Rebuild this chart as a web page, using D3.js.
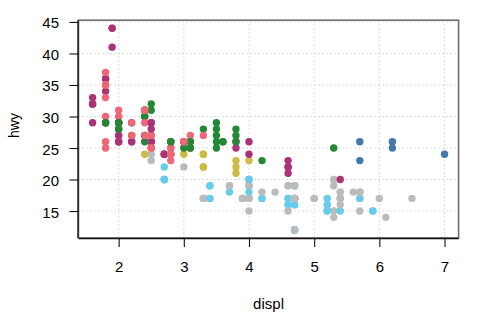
<!DOCTYPE html>
<html><head><meta charset="utf-8">
<script src="https://cdn.jsdelivr.net/npm/d3@7"></script>
<style>html,body{margin:0;padding:0;background:#fff;}svg{display:block;}</style>
</head><body>
<svg id="chart" width="480" height="336"></svg>
<script>
const displ = [1.8,1.8,2.0,2.0,2.8,2.8,3.1,1.8,1.8,2.0,2.0,2.8,2.8,3.1,3.1,2.8,3.1,4.2,5.3,5.3,5.3,5.7,6.0,5.7,5.7,6.2,6.2,7.0,5.3,5.3,5.7,6.5,2.4,2.4,3.1,3.5,3.6,2.4,3.0,3.3,3.3,3.3,3.3,3.3,3.8,3.8,3.8,4.0,3.7,3.7,3.9,3.9,4.7,4.7,4.7,5.2,5.2,3.9,4.7,4.7,4.7,5.2,5.7,5.9,4.7,4.7,4.7,4.7,4.7,4.7,5.2,5.2,5.7,5.9,4.6,5.4,5.4,4.0,4.0,4.0,4.0,4.6,5.0,4.2,4.2,4.6,4.6,4.6,5.4,5.4,3.8,3.8,4.0,4.0,4.6,4.6,4.6,4.6,5.4,1.6,1.6,1.6,1.6,1.6,1.8,1.8,1.8,2.0,2.4,2.4,2.4,2.4,2.5,2.5,3.3,2.0,2.0,2.0,2.0,2.7,2.7,2.7,3.0,3.7,4.0,4.7,4.7,4.7,5.7,6.1,4.0,4.2,4.4,4.6,5.4,5.4,5.4,4.0,4.0,4.6,5.0,2.4,2.4,2.5,2.5,3.5,3.5,3.0,3.0,3.5,3.3,3.3,4.0,5.6,3.1,3.8,3.8,3.8,5.3,2.5,2.5,2.5,2.5,2.5,2.5,2.2,2.2,2.5,2.5,2.5,2.5,2.5,2.5,2.7,2.7,3.4,3.4,4.0,4.7,2.2,2.2,2.4,2.4,3.0,3.0,3.5,2.2,2.2,2.4,2.4,3.0,3.0,3.3,1.8,1.8,1.8,1.8,1.8,4.7,5.7,2.7,2.7,2.7,3.4,3.4,4.0,4.0,2.0,2.0,2.0,2.0,2.8,1.9,2.0,2.0,2.0,2.0,2.5,2.5,2.8,2.8,1.9,1.9,2.0,2.0,2.5,2.5,1.8,1.8,2.0,2.0,2.8,2.8,3.6];
const hwy = [29,29,31,30,26,26,27,26,25,28,27,25,25,25,25,24,25,23,20,15,20,17,17,26,23,26,25,24,19,14,15,17,27,30,26,29,26,24,24,22,22,24,24,17,22,21,23,23,19,18,17,17,19,19,12,17,15,17,17,12,17,16,18,15,16,12,17,17,16,12,15,16,17,15,17,17,18,17,19,17,19,19,17,17,17,16,16,17,15,17,26,25,26,24,21,22,23,22,20,33,32,32,29,32,34,36,36,29,26,27,30,31,26,26,28,26,29,28,27,24,24,24,22,19,20,17,12,19,18,14,15,18,18,15,17,16,18,17,19,19,17,29,27,31,32,27,26,26,25,25,17,17,20,18,26,26,27,28,25,25,24,27,25,26,23,26,26,26,26,25,27,25,27,20,20,19,17,20,17,29,27,31,31,26,26,28,27,29,31,31,26,26,27,30,33,35,37,35,17,18,20,20,22,17,19,18,20,29,26,29,29,24,44,29,26,29,29,29,29,23,24,44,41,29,26,28,29,29,29,28,29,26,26,26];
const vclass = [
 "compact","compact","compact","compact","compact","compact","compact","compact","compact","compact","compact","compact","compact","compact","compact",
 "midsize","midsize","midsize",
 "suv","suv","suv","suv","suv",
 "2seater","2seater","2seater","2seater","2seater",
 "suv","suv","suv","suv",
 "midsize","midsize","midsize","midsize","midsize",
 "minivan","minivan","minivan","minivan","minivan","minivan","minivan","minivan","minivan","minivan","minivan",
 "pickup","pickup","pickup","pickup","pickup","pickup","pickup","pickup","pickup",
 "suv","suv","suv","suv","suv","suv","suv",
 "pickup","pickup","pickup","pickup","pickup","pickup","pickup","pickup","pickup","pickup",
 "suv","suv","suv","suv","suv","suv","suv","suv","suv",
 "pickup","pickup","pickup","pickup","pickup","pickup","pickup",
 "subcompact","subcompact","subcompact","subcompact","subcompact","subcompact","subcompact","subcompact","subcompact","subcompact","subcompact","subcompact","subcompact","subcompact","subcompact","subcompact","subcompact","subcompact",
 "midsize","midsize","midsize","midsize","midsize","midsize","midsize",
 "subcompact","subcompact","subcompact","subcompact","subcompact","subcompact","subcompact",
 "suv","suv","suv","suv","suv","suv","suv","suv","suv","suv","suv","suv","suv","suv","suv","suv","suv","suv","suv",
 "compact","compact",
 "midsize","midsize","midsize","midsize","midsize","midsize","midsize",
 "suv","suv","suv","suv",
 "midsize","midsize","midsize","midsize","midsize",
 "suv","suv","suv","suv","suv","suv",
 "subcompact","subcompact","subcompact","subcompact",
 "compact","compact","compact","compact",
 "suv","suv","suv","suv","suv","suv",
 "midsize","midsize","midsize","midsize","midsize","midsize","midsize",
 "compact","compact","compact","compact","compact","compact","compact","compact","compact","compact","compact","compact",
 "suv","suv",
 "pickup","pickup","pickup","pickup","pickup","pickup","pickup",
 "compact","compact","compact","compact","compact","compact","compact","compact","compact","compact","compact","compact","compact","compact",
 "subcompact","subcompact","subcompact","subcompact","subcompact","subcompact",
 "midsize","midsize","midsize","midsize","midsize","midsize","midsize"
];
const classNames = ["2seater","compact","midsize","minivan","pickup","subcompact","suv"];
const classColors = ["#4477AA","#EE6677","#228833","#CCBB44","#66CCEE","#AA3377","#BBBBBB"];
const xTicks = [2,3,4,5,6,7];
const yTicks = [15,20,25,30,35,40,45];

const svg = d3.select("#chart");
const L = 78.5, R = 458.6, T = 20.2, B = 238;
const x = d3.scaleLinear().domain([1.384, 7.216]).range([L, R]);
const y = d3.scaleLinear().domain([10.72, 45.28]).range([B, T]);
const color = d3.scaleOrdinal().domain(classNames).range(classColors);
const font = "'Liberation Sans', Arial, Helvetica, sans-serif";

// grid
const grid = svg.append("g");
grid.selectAll("line.v").data(xTicks).join("line")
  .attr("x1", d => x(d)).attr("x2", d => x(d)).attr("y1", T).attr("y2", B)
  .attr("stroke", "#d3d3d3").attr("stroke-width", 1).attr("stroke-dasharray", "1.5,2.5");
grid.selectAll("line.h").data(yTicks).join("line")
  .attr("y1", d => y(d)).attr("y2", d => y(d)).attr("x1", L).attr("x2", R)
  .attr("stroke", "#d3d3d3").attr("stroke-width", 1).attr("stroke-dasharray", "1.5,2.5");

// points
const idx = d3.range(displ.length);
svg.append("g").selectAll("circle").data(idx).join("circle")
  .attr("cx", i => x(displ[i])).attr("cy", i => y(hwy[i])).attr("r", 3.7)
  .attr("fill", i => color(vclass[i]));

// frame
svg.append("rect").attr("x", L).attr("y", T).attr("width", R - L).attr("height", B - T)
  .attr("fill", "none").attr("stroke", "#707070").attr("stroke-width", 1.6);

// axes
const xAxis = d3.axisBottom(x).tickValues(xTicks).tickSize(9).tickPadding(15).tickFormat(d3.format("d"));
const gx = svg.append("g").attr("transform", `translate(0,${B})`).call(xAxis);
gx.select(".domain").attr("d", `M${L},0.5H${R}`).attr("stroke", "#111").attr("stroke-width", 1.3);
gx.selectAll(".tick line").attr("stroke", "#111").attr("stroke-width", 1.1);
gx.selectAll(".tick text").attr("font-family", font).attr("font-size", 15).attr("fill", "#000")
  .attr("dy", null).attr("y", 34);

const yAxis = d3.axisLeft(y).tickValues(yTicks).tickSize(9).tickPadding(10).tickFormat(d3.format("d"));
const gy = svg.append("g").attr("transform", `translate(${L},0)`).call(yAxis);
gy.select(".domain").attr("d", `M-0.5,${T}V${B}`).attr("stroke", "#111").attr("stroke-width", 1.3);
gy.selectAll(".tick line").attr("stroke", "#111").attr("stroke-width", 1.1);
gy.selectAll(".tick text").attr("font-family", font).attr("font-size", 15).attr("fill", "#000")
  .attr("dy", null).attr("y", 6).attr("x", -19.5);

// labels
svg.append("text").attr("x", (L + R) / 2).attr("y", 309).attr("text-anchor", "middle")
  .attr("font-family", font).attr("font-size", 15).attr("fill", "#000").text("displ");
svg.append("text").attr("transform", "translate(19,125.5) rotate(-90)").attr("text-anchor", "middle")
  .attr("font-family", font).attr("font-size", 14).attr("fill", "#000").text("hwy");
</script>
</body></html>
